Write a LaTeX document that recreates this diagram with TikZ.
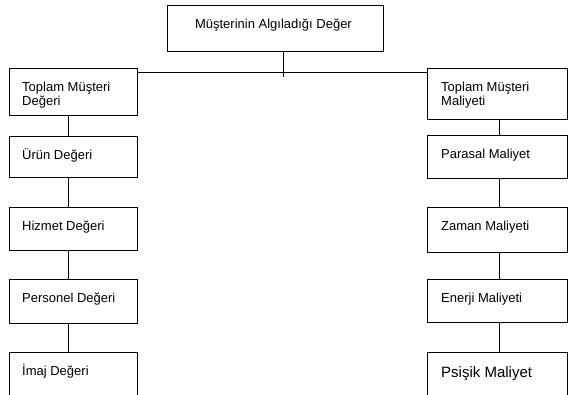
\documentclass[tikz,border=0pt]{standalone}
\usepackage{fontspec}
\setmainfont{Liberation Sans}
\begin{document}
\begin{tikzpicture}[x=1pt,y=-1pt,
  box/.style={draw=black, line width=0.9pt, anchor=north west, inner sep=0pt},
  lbox/.style={box, minimum width=128pt},
  rbox/.style={box, minimum width=140pt},
  txt/.style={font=\fontsize{13}{14.5}\selectfont, inner sep=0pt, align=left},
  ltext/.style={label={[txt, anchor=base west, xshift=13pt, yshift=-23pt]north west:#1}},
  rtext/.style={label={[txt, anchor=base west, xshift=14pt, yshift=-23pt]north west:#1}},
  ltwo/.style={label={[txt, anchor=base west, xshift=13pt, yshift=-37.5pt]north west:#1}},
  rtwo/.style={label={[txt, anchor=base west, xshift=14pt, yshift=-37.5pt]north west:#1}},
  conn/.style={draw=black, line width=0.9pt}]
\useasboundingbox (0,0) rectangle (568,394);
\clip (0,0) rectangle (568,394);

\node[box, minimum width=216pt, minimum height=46pt,
  label={[txt, anchor=base, xshift=-2pt, yshift=-23pt]north:Müşterinin Algıladığı Değer}] (top) at (167,5) {};

\node[lbox, minimum height=47pt, ltwo={Toplam Müşteri\\Değeri}] (L1) at (9,68) {};
\node[lbox, minimum height=41pt, ltext={Ürün Değeri}] (L2) at (9,136) {};
\node[lbox, minimum height=43pt, ltext={Hizmet Değeri}] (L3) at (9,207) {};
\node[lbox, minimum height=44pt, ltext={Personel Değeri}] (L4) at (9,279) {};
\node[lbox, minimum height=60pt, ltext={İmaj Değeri}] (L5) at (9,352) {};

\node[rbox, minimum height=51pt, rtwo={Toplam Müşteri\\Maliyeti}] (R1) at (427,68) {};
\node[rbox, minimum height=43pt, rtext={Parasal Maliyet}] (R2) at (427,135) {};
\node[rbox, minimum height=45pt, rtext={Zaman Maliyeti}] (R3) at (427,207) {};
\node[rbox, minimum height=43pt, rtext={Enerji Maliyeti}] (R4) at (427,279) {};
\node[rbox, minimum height=60pt,
  label={[txt, font=\fontsize{15}{17}\selectfont, anchor=base west, xshift=14pt, yshift=-25pt]north west:Psişik Maliyet}] (R5) at (427,352) {};

\coordinate (hj) at (283,72);
\coordinate (vend) at (283,77);
\coordinate (lx) at (68,0);
\coordinate (rx) at (499,0);

\draw[conn] (top.south -| hj) -- (vend);
\draw[conn] (L1.east |- hj) -- (R1.west |- hj);

\draw[conn] (L1.south -| lx) -- (L2.north -| lx);
\draw[conn] (L2.south -| lx) -- (L3.north -| lx);
\draw[conn] (L3.south -| lx) -- (L4.north -| lx);
\draw[conn] (L4.south -| lx) -- (L5.north -| lx);

\draw[conn] (R1.south -| rx) -- (R2.north -| rx);
\draw[conn] (R2.south -| rx) -- (R3.north -| rx);
\draw[conn] (R3.south -| rx) -- (R4.north -| rx);
\draw[conn] (R4.south -| rx) -- (R5.north -| rx);
\end{tikzpicture}
\end{document}
